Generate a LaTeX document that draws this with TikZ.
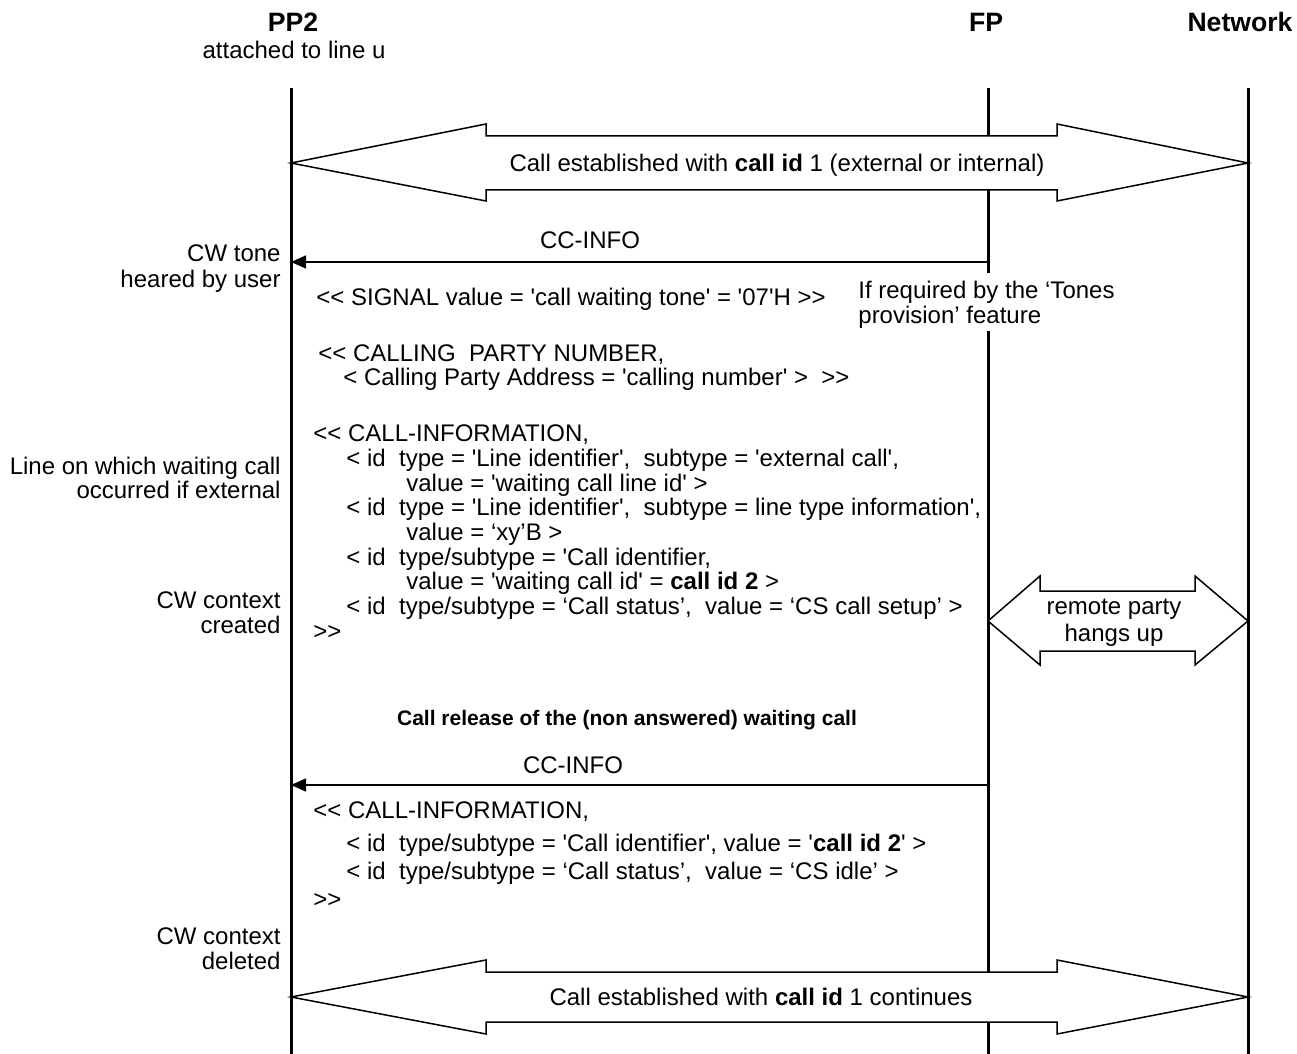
\documentclass[tikz,border=0pt]{standalone}
\usepackage{fontspec}
\setmainfont{Liberation Sans}[Ligatures=TeXOff]
\usetikzlibrary{arrows.meta}
\begin{document}
\begin{tikzpicture}[x=0.5pt,y=-0.5pt,
  every node/.style={inner sep=0pt,font=\fontsize{12}{14}\selectfont},
  lifeline/.style={line width=1.5pt},
  msgarrow/.style={line width=0.75pt,-{Triangle[length=7.5pt,width=6.5pt]}},
  bigarrow/.style={line width=0.75pt,fill=white,line join=miter},
  txt/.style={anchor=base west},
  ctr/.style={anchor=base},
  note/.style={anchor=base east},
  head/.style={anchor=base,font=\fontsize{13.3}{15}\selectfont\bfseries}]
\useasboundingbox (0,0) rectangle (1297,1054);
% headers
\node[head] (hpp) at (293,32) {PP2};
\node[ctr] (hpp2) at (294,59) {attached to line u};
\node[head] (hfp) at (986,32) {FP};
\node[head] (hnw) at (1240,32) {Network};
% lifelines
\coordinate (ppT) at (291,88); \coordinate (ppB) at (291,1054);
\coordinate (fpT) at (988,88); \coordinate (fpB) at (988,1054);
\coordinate (fpG1) at (988,273); \coordinate (fpG2) at (988,331);
\coordinate (nwT) at (1248,88); \coordinate (nwB) at (1248,1054);
\draw[lifeline] (ppT) -- (ppB);
\draw[lifeline] (fpT) -- (fpG1);
\draw[lifeline] (fpG2) -- (fpB);
\draw[lifeline] (nwT) -- (nwB);
% top big arrow
\draw[bigarrow] (291,163) -- (486,124) -- (486,136) -- (1057,136) -- (1057,124) -- (1248,163)
  -- (1057,201) -- (1057,190) -- (486,190) -- (486,201) -- cycle;
\node[ctr] (t1) at (777,171) {Call established with \textbf{call id} 1 (external or internal)};
% CC-INFO 1
\coordinate (m1s) at (988,262); \coordinate (m1e) at (291,262);
\draw[msgarrow] (m1s) -- (m1e);
\node[ctr] (l1) at (590,249) {CC-INFO};
\node[note] (n1a) at (281,262) {CW tone};
\node[note] (n1b) at (281,287) {heared by user};
\node[txt] (s1) at (316,305) {<{}< SIGNAL value = 'call waiting tone' = '07'H >{}>};
\node[txt] (r1) at (858,298) {If required by the ‘Tones};
\node[txt] (r2) at (858,323) {provision’ feature};
\node[txt] (c1) at (318,361) {<{}< CALLING~ PARTY NUMBER,};
\node[txt] (c2) at (343,385) {< Calling Party Address = 'calling number' >~ >{}>};
% CALL-INFORMATION block 1
\node[txt] (b1) at (313,441) {<{}< CALL-INFORMATION,};
\node[txt] (b2) at (346,466) {< id~ type = 'Line identifier',~ subtype = 'external call',};
\node[txt] (b3) at (406,491) {value = 'waiting call line id' >};
\node[txt] (b4) at (346,515) {< id~ type = 'Line identifier',~ subtype = line type information',};
\node[txt] (b5) at (406,540) {value = ‘xy’B >};
\node[txt] (b6) at (346,565) {< id~ type/subtype = 'Call identifier,};
\node[txt] (b7) at (406,589) {value = 'waiting call id' = \textbf{call id 2} >};
\node[txt] (b8) at (346,614) {< id~ type/subtype = ‘Call status’,~ value = ‘CS call setup’ >};
\node[txt] (b9) at (313,639) {>{}>};
\node[note] (n2a) at (281,474) {Line on which waiting call};
\node[note] (n2b) at (281,498) {occurred if external};
\node[note] (n3a) at (281,608) {CW context};
\node[note] (n3b) at (281,633) {created};
% remote party hangs up
\draw[bigarrow] (988,621) -- (1040,576) -- (1040,591) -- (1195,591) -- (1195,576) -- (1248,621)
  -- (1195,665) -- (1195,651) -- (1040,651) -- (1040,665) -- cycle;
\node[ctr] (rp1) at (1114,614) {remote party};
\node[ctr] (rp2) at (1114,641) {hangs up};
% release
\node[ctr,font=\fontsize{10.5}{12.4}\selectfont\bfseries] (rel) at (627,725) {Call release of the (non answered) waiting call};
\coordinate (m2s) at (988,785); \coordinate (m2e) at (291,785);
\draw[msgarrow] (m2s) -- (m2e);
\node[ctr] (l2) at (573,773) {CC-INFO};
\node[txt] (d1) at (313,818) {<{}< CALL-INFORMATION,};
\node[txt] (d2) at (346,851) {< id~ type/subtype = 'Call identifier', value = '\textbf{call id 2}' >};
\node[txt] (d3) at (346,879) {< id~ type/subtype = ‘Call status’,~ value = ‘CS idle’ >};
\node[txt] (d4) at (313,907) {>{}>};
\node[note] (n4a) at (281,944) {CW context};
\node[note] (n4b) at (281,969) {deleted};
% bottom big arrow
\draw[bigarrow] (291,997) -- (486,960) -- (486,972) -- (1057,972) -- (1057,960) -- (1248,997)
  -- (1057,1034) -- (1057,1022) -- (486,1022) -- (486,1034) -- cycle;
\node[ctr] (t2) at (761,1005) {Call established with \textbf{call id} 1 continues};
\end{tikzpicture}
\end{document}
